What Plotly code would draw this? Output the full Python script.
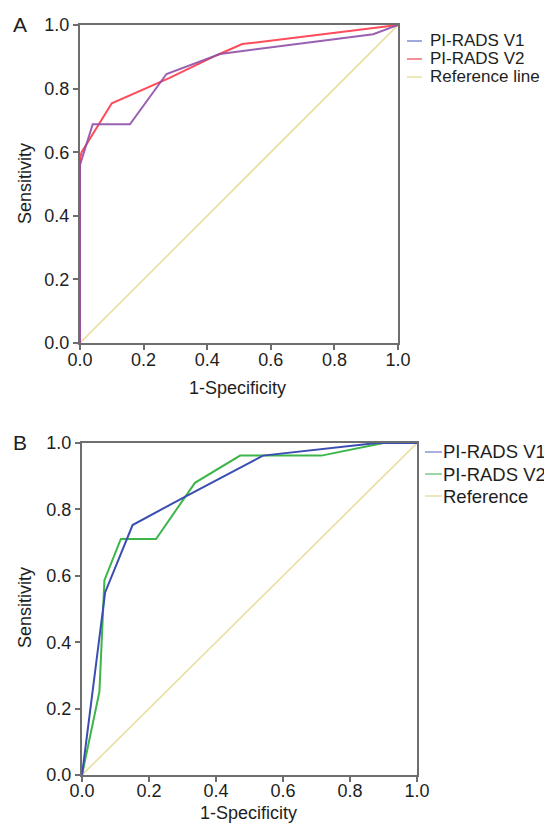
import plotly.graph_objects as go

# The page body has an 8px margin, so the figure is drawn 8px in from the top-left corner.
OFF = 8
W, H = 552 - OFF, 823 - OFF

# Panel A data
a_v1_x = [0.0, 0.0, 0.04, 0.157, 0.272, 0.44, 0.922, 1.0]
a_v1_y = [0.0, 0.56, 0.688, 0.688, 0.846, 0.909, 0.971, 1.0]
a_v2_x = [0.0, 0.0, 0.005, 0.10, 0.28, 0.43, 0.51, 1.0]
a_v2_y = [0.0, 0.58, 0.60, 0.754, 0.833, 0.905, 0.94, 1.0]
# Panel B data
b_v1_x = [0.0, 0.069, 0.151, 0.307, 0.54, 0.88, 1.0]
b_v1_y = [0.0, 0.55, 0.753, 0.838, 0.962, 1.0, 1.0]
b_v2_x = [0.0, 0.052, 0.067, 0.116, 0.221, 0.337, 0.472, 0.715, 0.90, 1.0]
b_v2_y = [0.0, 0.251, 0.587, 0.711, 0.711, 0.88, 0.962, 0.962, 1.0, 1.0]
ref_x = [0.0, 1.0]
ref_y = [0.0, 1.0]

tick_vals = [0.0, 0.2, 0.4, 0.6, 0.8, 1.0]
tick_text = ["0.0", "0.2", "0.4", "0.6", "0.8", "1.0"]

legend_a = ["PI-RADS V1", "PI-RADS V2", "Reference line"]
legend_b = ["PI-RADS V1", "PI-RADS V2", "Reference"]
x_title = "1-Specificity"
y_title = "Sensitivity"

FONT = "Liberation Sans, Arial, Helvetica, sans-serif"
TXT = "#1E1E1E"
REF_COL = "#E8DFA0"

fig = go.Figure()
# Panel A
fig.add_trace(go.Scatter(x=ref_x, y=ref_y, mode="lines", line=dict(color=REF_COL, width=1.6),
                         xaxis="x", yaxis="y", showlegend=False, name=legend_a[2]))
fig.add_trace(go.Scatter(x=a_v2_x, y=a_v2_y, mode="lines", line=dict(color="#FF4B5A", width=2),
                         xaxis="x", yaxis="y", showlegend=False, name=legend_a[1]))
fig.add_trace(go.Scatter(x=a_v1_x, y=a_v1_y, mode="lines", line=dict(color="#9050A8", width=2),
                         xaxis="x", yaxis="y", showlegend=False, name=legend_a[0], opacity=0.9))
# Panel B
fig.add_trace(go.Scatter(x=ref_x, y=ref_y, mode="lines", line=dict(color=REF_COL, width=1.6),
                         xaxis="x2", yaxis="y2", showlegend=False, name=legend_b[2]))
fig.add_trace(go.Scatter(x=b_v2_x, y=b_v2_y, mode="lines", line=dict(color="#3DB54A", width=2),
                         xaxis="x2", yaxis="y2", showlegend=False, name=legend_b[1]))
fig.add_trace(go.Scatter(x=b_v1_x, y=b_v1_y, mode="lines", line=dict(color="#3A4DB0", width=2),
                         xaxis="x2", yaxis="y2", showlegend=False, name=legend_b[0]))

def px(x):
    return (x - OFF) / W

def py(y):
    return 1 - (y - OFF) / H

axis_common = dict(
    range=[0, 1], tickvals=tick_vals, ticktext=tick_text, automargin=False,
    showgrid=False, zeroline=False, showline=True, linecolor="#6E6E6E", linewidth=2,
    mirror=True, ticks="outside", ticklen=5, tickwidth=1.5, tickcolor="#6E6E6E",
    tickfont=dict(family=FONT, size=18, color=TXT),
)

fig.update_layout(
    width=W, height=H, margin=dict(l=0, r=0, t=0, b=0),
    paper_bgcolor="white", plot_bgcolor="white", showlegend=False,
    font=dict(family=FONT, color=TXT),
    xaxis=dict(domain=[px(80), px(398)], anchor="y", ticklabelstandoff=-6, **axis_common),
    yaxis=dict(domain=[py(343), py(25)], anchor="x", **axis_common),
    xaxis2=dict(domain=[px(82), px(417)], anchor="y2", ticklabelstandoff=-7, **axis_common),
    yaxis2=dict(domain=[py(775), py(443)], anchor="x2", **axis_common),
)

shapes = []
annotations = []

def txt(x, y, s, size, xanchor="center", angle=0):
    annotations.append(dict(x=px(x), y=py(y), xref="paper", yref="paper", text=s, showarrow=False,
                            xanchor=xanchor, yanchor="middle", textangle=angle,
                            font=dict(size=size, family=FONT, color=TXT)))

# Panel letters
txt(20, 25, "A", 21)
txt(20, 442, "B", 21)
# Axis titles
txt(237, 388, x_title, 18)
txt(25, 184, y_title, 18, angle=-90)
txt(248, 813, x_title, 18)
txt(25, 608, y_title, 18, angle=-90)

# Manual legends
leg_a_cols = ["#7F8CD2", "#F26A76", REF_COL]
leg_a_rows = [41, 59, 77]
for name, col, yy in zip(legend_a, leg_a_cols, leg_a_rows):
    shapes.append(dict(type="line", xref="paper", yref="paper", x0=px(407), x1=px(422), y0=py(yy), y1=py(yy),
                       line=dict(color=col, width=1.5)))
    txt(428, yy, name, 17, xanchor="left")

leg_b_cols = ["#8A96D6", "#7CCB86", REF_COL]
leg_b_rows = [452, 474, 496]
for name, col, yy in zip(legend_b, leg_b_cols, leg_b_rows):
    shapes.append(dict(type="line", xref="paper", yref="paper", x0=px(425), x1=px(442), y0=py(yy), y1=py(yy),
                       line=dict(color=col, width=1.5)))
    txt(441, yy, name, 18.5, xanchor="left")

fig.update_layout(shapes=shapes, annotations=annotations)
fig.write_html("out.html")
